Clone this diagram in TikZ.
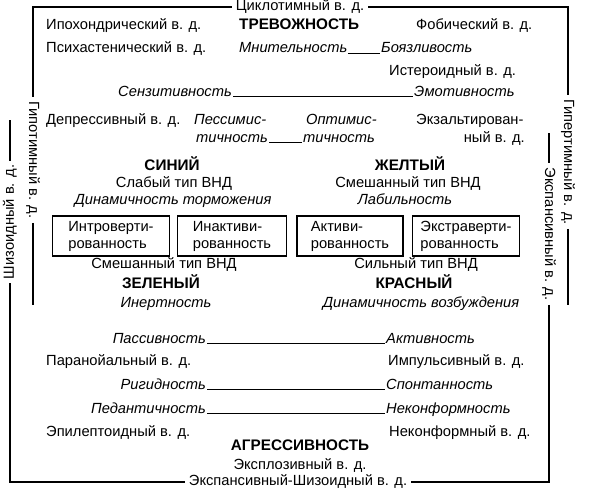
\documentclass[tikz,border=0pt]{standalone}
\usepackage{fontspec}
\setmainfont{Liberation Sans}
\usetikzlibrary{positioning}

\begin{document}
\begin{tikzpicture}[x=1pt, y=-1pt,
    txt/.style={font=\fontsize{14.7}{17}\selectfont, inner sep=1pt},
    trait/.style={font=\fontsize{14.7}{17}\selectfont\itshape, inner sep=1pt},
    head/.style={font=\fontsize{15.3}{17}\selectfont\bfseries, inner sep=1pt},
    side/.style={font=\fontsize{14.7}{17}\selectfont, inner sep=4pt},
    quality/.style={draw, line width=1.3pt, font=\fontsize{14.7}{17}\selectfont,
      align=left, minimum height=40pt, inner sep=2pt},
    frame/.style={line width=1.3pt},
    link/.style={line width=0.8pt}]
  \useasboundingbox (0,0) rectangle (593,492);

  % upper block
  \node[side] (cyclo) at (300,7) {Циклотимный в. д.};
  \node[txt, anchor=base west] (hypoch) at (45,30) {Ипохондрический в. д.};
  \node[head, anchor=base west] (anx) at (238,30) {ТРЕВОЖНОСТЬ};
  \node[txt, anchor=base west] (phob) at (415,30) {Фобический в. д.};
  \node[txt, anchor=base west] (psych) at (45,53) {Психастенический в. д.};
  \node[trait, anchor=base west] (suspic) at (238,53) {Мнительность};
  \node[trait, anchor=base west] (fear) at (380,53) {Боязливость};
  \node[txt, anchor=base west] (hyst) at (388,76) {Истероидный в. д.};
  \node[trait, anchor=base east] (sens) at (233,96) {Сензитивность};
  \node[trait, anchor=base west] (emot) at (413,96) {Эмотивность};
  \node[txt, anchor=base west] (depr) at (45,124) {Депрессивный в. д.};
  \node[trait, anchor=base west] (pess) at (193,124) {Пессимис-};
  \node[trait, anchor=base west] (pess2) at (195,142) {тичность};
  \node[trait, anchor=base west] (opt) at (305,124) {Оптимис-};
  \node[trait, anchor=base west] (opt2) at (302,142) {тичность};
  \node[txt, anchor=base west] (exalt) at (415,124) {Экзальтирован-};
  \node[txt, anchor=base east] (exalt2) at (526,142) {ный в. д.};
  \draw[link] (suspic.base east) -- (fear.base west);
  \draw[link] (sens.base east) -- (emot.base west);
  \draw[link] (pess2.base east) -- (opt2.base west);

  % temperament colours
  \node[head, anchor=base] (blue) at (172,170) {СИНИЙ};
  \node[txt, anchor=base] (weak) at (174,187) {Слабый тип ВНД};
  \node[trait, anchor=base] (inhib) at (173,204) {Динамичность торможения};
  \node[head, anchor=base] (yellow) at (410,170) {ЖЕЛТЫЙ};
  \node[txt, anchor=base] (mixed1) at (408,187) {Смешанный тип ВНД};
  \node[trait, anchor=base] (lab) at (405,204) {Лабильность};
  \foreach \n/\x/\w/\t in {intro/111/117/{Интроверти-\\рованность},
      inact/232/109/{Инактиви-\\рованность},
      activ/350/106/{Активи-\\рованность},
      extra/466/107/{Экстраверти-\\рованность}}{
    \node[quality, minimum width=\w pt] (\n) at (\x,236) {\t};
  }
  \node[txt, anchor=base] (mixed2) at (164,268) {Смешанный тип ВНД};
  \node[head, anchor=base] (green) at (161,288) {ЗЕЛЕНЫЙ};
  \node[trait, anchor=base] (inert) at (166,307) {Инертность};
  \node[txt, anchor=base] (strong) at (416,268) {Сильный тип ВНД};
  \node[head, anchor=base] (red) at (414,288) {КРАСНЫЙ};
  \node[trait, anchor=base] (excit) at (421,307) {Динамичность возбуждения};

  % lower block
  \node[trait, anchor=base east] (pass) at (207,343) {Пассивность};
  \node[trait, anchor=base west] (act) at (385,343) {Активность};
  \node[txt, anchor=base west] (paran) at (45,365) {Паранойальный в. д.};
  \node[txt, anchor=base west] (impul) at (387,365) {Импульсивный в. д.};
  \node[trait, anchor=base east] (rigid) at (207,389) {Ригидность};
  \node[trait, anchor=base west] (spont) at (385,389) {Спонтанность};
  \node[trait, anchor=base east] (pedant) at (207,413) {Педантичность};
  \node[trait, anchor=base west] (nonconf) at (385,413) {Неконформность};
  \node[txt, anchor=base west] (epil) at (45,436) {Эпилептоидный в. д.};
  \node[txt, anchor=base west] (nonconfd) at (388,436) {Неконформный в. д.};
  \node[head, anchor=base] (aggr) at (300,450) {АГРЕССИВНОСТЬ};
  \node[txt, anchor=base] (explo) at (300,469) {Эксплозивный в. д.};
  \node[side] (expschiz) at (298,482) {Экспансивный-Шизоидный в. д.};
  \draw[link] (pass.base east) -- (act.base west);
  \draw[link] (rigid.base east) -- (spont.base west);
  \draw[link] (pedant.base east) -- (nonconf.base west);

  % frames
  \coordinate (ctl) at (33,7);
  \coordinate (ctr) at (568,7);
  \coordinate (hypoend) at (33,305);
  \coordinate (hyperend) at (568,305);
  \node[side, rotate=-90] (hypo) at (33,160) {Гипотимный в. д.};
  \node[side, rotate=-90] (hyper) at (568,162) {Гипертимный в. д.};
  \draw[frame] (cyclo.west) -- (ctl) -- (hypo.west);
  \draw[frame] (hypo.east) -- (hypoend);
  \draw[frame] (cyclo.east) -- (ctr) -- (hyper.west);
  \draw[frame] (hyper.east) -- (hyperend);

  \coordinate (btl) at (10,120);
  \coordinate (bbl) at (10,482);
  \coordinate (bbr) at (549,482);
  \coordinate (btr) at (549,133);
  \node[side, rotate=90] (schiz) at (10,222) {Шизоидный в. д.};
  \node[side, rotate=-90] (expan) at (549,234) {Экспансивный в. д.};
  \draw[frame] (btl) -- (schiz.east);
  \draw[frame] (schiz.west) -- (bbl) -- (expschiz.west);
  \draw[frame] (btr) -- (expan.west);
  \draw[frame] (expan.east) -- (bbr) -- (expschiz.east);
\end{tikzpicture}
\end{document}
